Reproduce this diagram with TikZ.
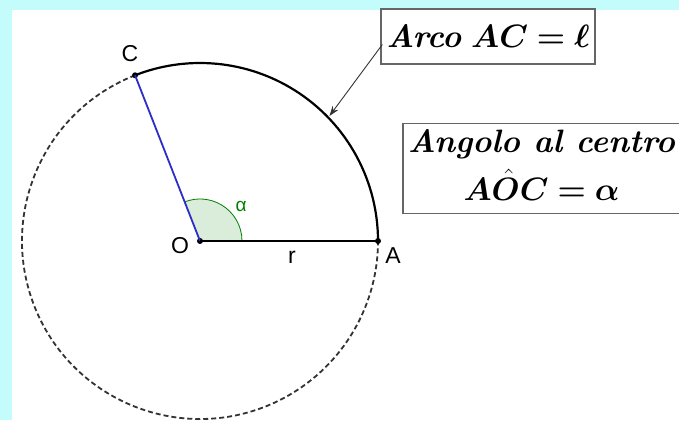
\documentclass[tikz,border=0pt]{standalone}
\usepackage{graphicx}
\usepackage{amsmath,bm}
\usepackage{fontspec}
\newfontfamily\labfont{Liberation Sans}
\usetikzlibrary{arrows.meta,calc}
\definecolor{bgcyan}{RGB}{196,252,252}
\definecolor{anggreen}{RGB}{0,128,0}
\definecolor{sectfill}{RGB}{218,236,218}
\definecolor{radblue}{RGB}{45,45,200}
\begin{document}
\begin{tikzpicture}[x=1pt,y=1pt,
  pt/.style={circle,fill=black,inner sep=0pt,minimum size=6pt},
  lbl/.style={font=\labfont\fontsize{23}{27}\selectfont,inner sep=0pt},
  infobox/.style={draw=black!60,line width=1.3pt,fill=white,inner sep=2pt,align=center,
    font=\fontsize{24.88}{30}\selectfont}]
\useasboundingbox (0,0) rectangle (679,420);
\fill[bgcyan] (0,0) rectangle (679,420);
\fill[white] (12,0) rectangle (679,410);
% points
\coordinate (Oc) at (200,179);
% sector
\fill[sectfill] (Oc) -- ++(42,0) arc[start angle=0,end angle=111.4,radius=42] -- cycle;
\draw[anggreen,line width=0.8pt] ($(Oc)+(42,0)$) arc[start angle=0,end angle=111.4,radius=42];
% circle
\draw[black!80,line width=1.8pt,dash pattern=on 5pt off 3pt] ($(Oc)+(111.4:178)$) arc[start angle=111.4,end angle=360,radius=178];
\draw[black,line width=2.2pt] ($(Oc)+(178,0)$) arc[start angle=0,end angle=111.4,radius=178];
\node[pt] (O) at (Oc) {};
\node[pt] (A) at ($(Oc)+(178,0)$) {};
\node[pt] (C) at ($(Oc)+(111.4:178)$) {};
\coordinate (arcpt) at ($(Oc)+(44:180)$);
\draw[radblue,line width=1.8pt] (O.center) -- (C.center);
\draw[black,line width=2.2pt] (O.center) -- (A.center);
% labels
\node[lbl] (lC) at (130,366) {C};
\node[lbl] (lO) at (180,174) {O};
\node[lbl] (lA) at (393,164) {A};
\node[lbl] (lr) at (292,163) {r};
\node[lbl,text=anggreen,font=\labfont\fontsize{19}{22}\selectfont] (la) at (241,214) {α};
% boxes
\node[infobox,minimum width=214pt,minimum height=55pt] (box1) at (488,383.5)
  {\scalebox{1.3}{\textbf{\textit{Arco}} $\boldsymbol{AC=\ell}$}};
\node[infobox,minimum width=277pt,minimum height=87pt] (box2) at (541.5,251.5)
  {\scalebox{1.3}{\begin{tabular}{@{}c@{}}\textbf{\textit{Angolo al centro}}\\[4pt] $\boldsymbol{A\hat{O}C=\alpha}$\end{tabular}}};
\draw[black!80,line width=0.9pt,-{Stealth[length=10pt,width=7pt]}] ($(box1.west)+(2,-8)$) -- (arcpt);
\end{tikzpicture}
\end{document}
